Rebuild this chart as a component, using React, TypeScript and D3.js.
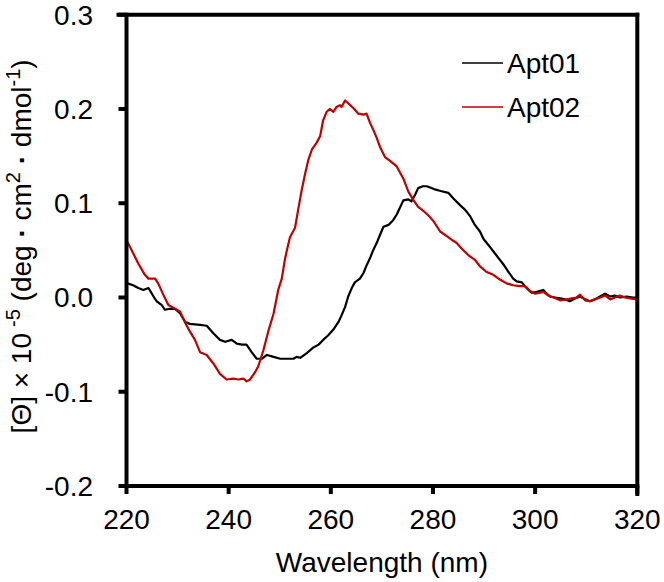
import React from "react";
import * as d3 from "d3";

// ---- Data ----
const apt01Wavelength = [
  220.2, 221.3, 222.3, 223.3, 224.3, 225.3, 225.9, 226.9, 227.5, 228.5, 229.5, 230.5, 231.5, 232.4,
  234.4, 235.7, 237.0, 238.3, 239.3, 240.6, 241.6, 242.6, 243.5, 244.5, 245.5, 246.5, 247.5, 248.8,
  250.1, 252.0, 252.7, 253.3, 254.0, 255.3, 256.6, 257.6, 258.5, 259.5, 260.5, 261.5, 262.1, 262.8,
  263.4, 264.1, 264.7, 265.7, 266.4, 267.0, 267.7, 268.2, 269.0, 269.6, 270.3, 271.3, 272.2, 272.9,
  273.5, 274.2, 275.2, 275.8, 276.5, 277.1, 278.0, 278.8, 280.2, 281.5, 283.0, 284.0, 285.3, 286.3,
  287.3, 288.2, 289.2, 289.9, 290.8, 291.8, 292.8, 293.8, 294.8, 295.7, 296.4, 297.4, 298.0, 298.7,
  299.3, 300.3, 301.6, 302.3, 302.9, 303.9, 304.9, 305.9, 306.8, 307.8, 308.8, 309.8, 310.7, 311.7,
  312.7, 313.7, 314.7, 315.6, 316.6, 317.9, 319.2, 320.0,
];
const apt01Values = [
  0.015, 0.013, 0.01, 0.008, 0.01, 0.001, -0.004, -0.008, -0.013, -0.012, -0.012, -0.017, -0.026, -0.028,
  -0.029, -0.03, -0.038, -0.045, -0.047, -0.045, -0.049, -0.05, -0.05, -0.058, -0.065, -0.065, -0.061, -0.063,
  -0.065, -0.065, -0.065, -0.063, -0.064, -0.059, -0.053, -0.05, -0.045, -0.04, -0.034, -0.026, -0.019, -0.01,
  0.001, 0.01, 0.016, 0.02, 0.026, 0.034, 0.042, 0.049, 0.058, 0.066, 0.075, 0.077, 0.082, 0.088,
  0.095, 0.103, 0.104, 0.102, 0.109, 0.116, 0.118, 0.118, 0.115, 0.113, 0.111, 0.105, 0.098, 0.093,
  0.086, 0.077, 0.07, 0.062, 0.056, 0.049, 0.042, 0.035, 0.027, 0.02, 0.017, 0.016, 0.012, 0.008,
  0.005, 0.006, 0.008, 0.004, 0.001, 0.0, -0.001, -0.002, -0.004, -0.001, 0.001, -0.002, -0.004, -0.002,
  0.001, 0.004, 0.001, 0.002, 0.0, 0.001, 0.0, 0.0,
];

const apt02Wavelength = [
  220.2, 221.3, 222.3, 223.6, 224.3, 225.6, 226.2, 227.2, 228.2, 229.5, 230.5, 231.5, 232.4, 233.4,
  234.4, 235.7, 237.0, 238.3, 239.6, 240.9, 241.9, 242.9, 243.5, 244.2, 245.2, 245.8, 246.8, 247.8,
  248.8, 249.7, 250.4, 251.0, 251.4, 252.0, 253.0, 253.6, 254.3, 255.0, 255.6, 256.3, 257.2, 257.9,
  258.5, 259.2, 259.8, 260.5, 261.1, 261.8, 262.1, 262.8, 263.4, 264.4, 265.4, 266.4, 267.0, 267.7,
  268.3, 269.0, 269.6, 270.6, 271.6, 272.9, 274.2, 275.2, 276.2, 277.1, 278.1, 279.1, 280.1, 281.4,
  282.7, 283.7, 284.6, 285.6, 286.9, 288.2, 289.2, 290.5, 291.8, 293.1, 294.4, 295.7, 297.0, 298.0,
  299.0, 300.0, 301.0, 301.6, 302.6, 303.6, 304.9, 306.2, 307.2, 308.1, 308.8, 309.8, 310.7, 311.7,
  312.7, 313.7, 314.7, 315.6, 316.6, 317.6, 318.6, 320.0,
];
const apt02Values = [
  0.059, 0.047, 0.036, 0.024, 0.02, 0.02, 0.015, 0.003, -0.008, -0.012, -0.015, -0.027, -0.036, -0.045,
  -0.058, -0.061, -0.07, -0.081, -0.087, -0.086, -0.087, -0.086, -0.089, -0.087, -0.079, -0.073, -0.056, -0.035,
  -0.017, 0.008, 0.02, 0.04, 0.05, 0.064, 0.074, 0.093, 0.114, 0.132, 0.146, 0.157, 0.164, 0.171,
  0.188, 0.197, 0.2, 0.197, 0.202, 0.204, 0.202, 0.209, 0.206, 0.201, 0.195, 0.194, 0.195, 0.185,
  0.178, 0.169, 0.16, 0.149, 0.145, 0.139, 0.126, 0.112, 0.103, 0.096, 0.092, 0.087, 0.081, 0.07,
  0.065, 0.061, 0.058, 0.052, 0.045, 0.04, 0.033, 0.027, 0.024, 0.019, 0.015, 0.013, 0.012, 0.012,
  0.007, 0.004, 0.005, 0.006, 0.002, 0.0, -0.003, -0.002, -0.001, 0.0, 0.003, -0.003, -0.004, -0.002,
  0.0, 0.002, -0.002, 0.0, 0.002, 0.0, -0.001, -0.002,
];

const seriesNames = ["Apt01", "Apt02"];
const seriesColors = ["#000000", "#c00000"];
const xTicks = [220, 240, 260, 280, 300, 320];
const yTicks = [-0.2, -0.1, 0.0, 0.1, 0.2, 0.3];

const W = 664;
const H = 582;
const FONT = "'Liberation Sans', Arial, sans-serif";

export default function App() {
  const x = d3.scaleLinear().domain([220, 320]).range([126.5, 637.3]);
  const y = d3.scaleLinear().domain([-0.2, 0.3]).range([486, 14.7]);

  const line = d3
    .line<[number, number]>()
    .x((d) => x(d[0]))
    .y((d) => y(d[1]));

  const series = [
    apt01Wavelength.map((w, i) => [w, apt01Values[i]] as [number, number]),
    apt02Wavelength.map((w, i) => [w, apt02Values[i]] as [number, number]),
  ];

  const x0 = x(220);
  const x1 = x(320);
  const yTop = y(0.3);
  const yBot = y(-0.2);
  const tick = 8;
  const sw = 4;

  const fs = 28;
  const fmt = (t: number) => d3.format(".1f")(t).replace("\u2212", "-");

  return (
    <svg
      width={W}
      height={H}
      style={{ position: "absolute", left: 0, top: 0, background: "#fff" }}
      fontFamily={FONT}
    >
      <rect x={0} y={0} width={W} height={H} fill="#fff" />
      {/* data lines */}
      {series.map((s, i) => (
        <path
          key={seriesNames[i]}
          d={line(s) || ""}
          fill="none"
          stroke={seriesColors[i]}
          strokeWidth={2.2}
          strokeLinejoin="round"
        />
      ))}

      {/* frame */}
      <g stroke="#000" strokeWidth={sw} strokeLinecap="square">
        <line x1={x0} y1={yTop} x2={x0} y2={yBot} />
        <line x1={x0} y1={yBot} x2={x1} y2={yBot} />
        <line x1={x0 - tick} y1={yTop} x2={x1} y2={yTop} />
        <line x1={x1} y1={yTop} x2={x1} y2={yBot + tick} />
      </g>
      {/* ticks */}
      <g stroke="#000" strokeWidth={sw}>
        {yTicks.map((t) => (
          <line key={t} x1={x0 - tick} x2={x0} y1={y(t)} y2={y(t)} />
        ))}
        {xTicks.map((t) => (
          <line key={t} x1={x(t)} x2={x(t)} y1={yBot} y2={yBot + tick} />
        ))}
      </g>

      {/* tick labels */}
      <g fontSize={fs} fill="#000">
        {yTicks.map((t) => (
          <text key={t} x={93} y={y(t) + 10} textAnchor="end">
            {fmt(t)}
          </text>
        ))}
        {xTicks.map((t) => (
          <text key={t} x={x(t)} y={529} textAnchor="middle">
            {t}
          </text>
        ))}
      </g>

      {/* axis titles */}
      <text x={(x0 + x1) / 2} y={572} textAnchor="middle" fontSize={fs} fill="#000">
        Wavelength (nm)
      </text>
      <text
        transform={`translate(31, ${(yTop + yBot) / 2 - 4}) rotate(-90)`}
        textAnchor="middle"
        fontSize={fs}
        fill="#000"
      >
        [Θ] × 10
        <tspan fontSize={20} dy={-11} dx={6}>-5</tspan>
        <tspan dy={11}> (deg </tspan>
        <tspan fontWeight="bold">·</tspan>
        <tspan> cm</tspan>
        <tspan fontSize={20} dy={-11}>2</tspan>
        <tspan dy={11}> </tspan>
        <tspan fontWeight="bold">·</tspan>
        <tspan> dmol</tspan>
        <tspan fontSize={20} dy={-11}>-1</tspan>
        <tspan dy={11}>)</tspan>
      </text>

      {/* legend */}
      {seriesNames.map((name, i) => (
        <g key={name}>
          <line
            x1={462}
            x2={503}
            y1={63 + i * 44}
            y2={63 + i * 44}
            stroke={seriesColors[i]}
            strokeWidth={1.5}
          />
          <text x={507} y={63 + i * 44 + 10} fontSize={fs} fill="#000">
            {name}
          </text>
        </g>
      ))}
    </svg>
  );
}
